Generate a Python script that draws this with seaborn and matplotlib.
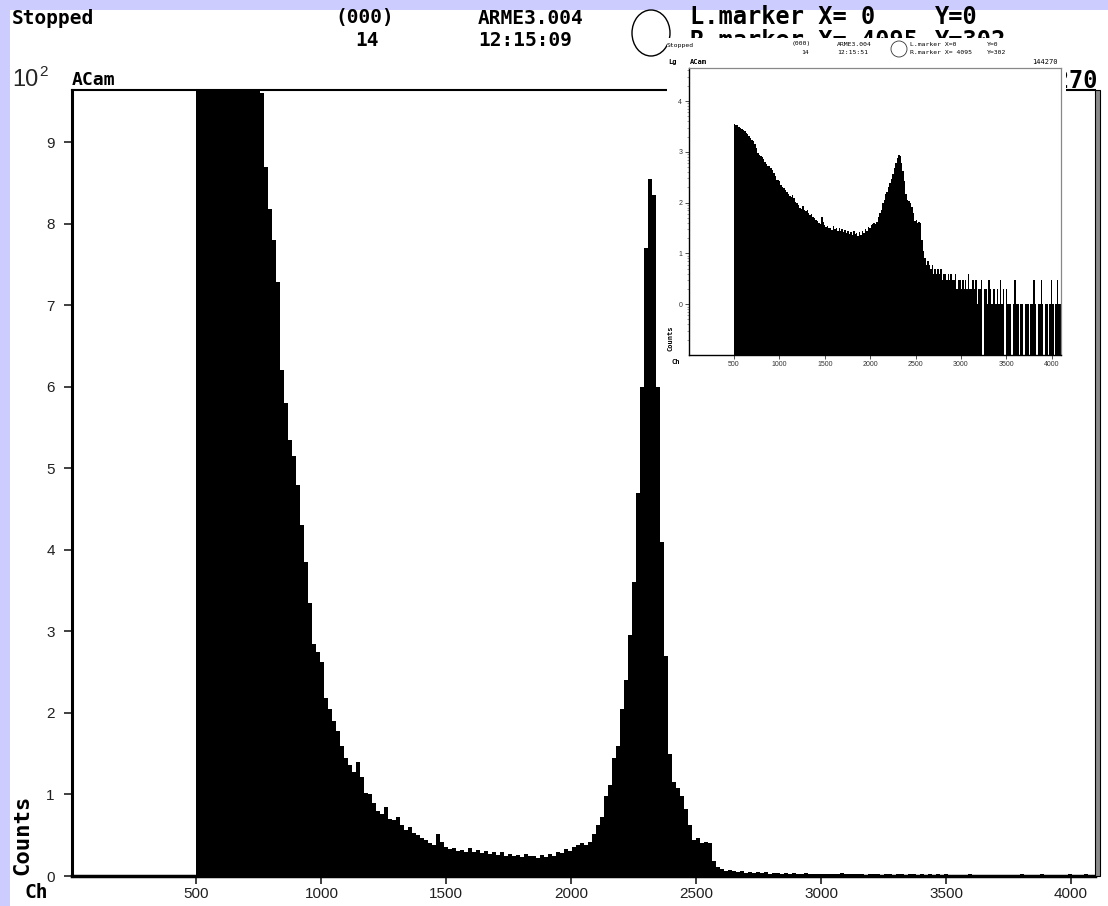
import numpy as np
import pandas as pd
import matplotlib
matplotlib.use("Agg")
import matplotlib.pyplot as plt
from matplotlib.patches import Rectangle, Ellipse
from matplotlib.ticker import FixedLocator, FuncFormatter, LogLocator, NullFormatter
import seaborn as sns

# spectrum: counts per channel, in groups of 16 channels
first_channel = 500
group_width = 16

# channels 500 .. 2627 (Compton edge + photo peak)
main_counts = [
    3560, 3420, 3300, 3120, 2980, 2810, 2650, 2530,   # 500
    2360, 2200, 2050, 1900, 1740, 1600, 1420, 1180,   # 628
    960, 870, 818, 780, 728, 620, 580, 535,           # 756
    515, 480, 430, 385, 335, 285, 275, 262,           # 884
    218, 205, 190, 178, 160, 145, 136, 128,           # 1012
    140, 122, 102, 100, 90, 80, 76, 85,               # 1140
    70, 69, 72, 62, 57, 60, 53, 50,                   # 1268
    46, 44, 40, 38, 52, 42, 36, 33,                   # 1396
    34, 31, 32, 29, 34, 30, 32, 28,                   # 1524
    31, 27, 30, 26, 29, 25, 27, 24,                   # 1652
    26, 23, 27, 24, 25, 22, 26, 23,                   # 1780
    27, 25, 30, 28, 33, 31, 36, 38,                   # 1908
    40, 38, 42, 52, 62, 72, 98, 112,                  # 2036
    145, 160, 205, 240, 295, 360, 470, 600,           # 2164
    770, 855, 835, 600, 410, 270, 150, 115,           # 2292
    108, 98, 82, 62, 44, 46, 40, 42,                  # 2420
    40, 18, 11, 8, 6,                                 # 2548
]

# channels 2628 .. 4095 (background tail, a few counts, some empty groups)
tail_counts = [
    7, 6, 5, 6, 4, 5, 4, 5,                           # 2628
    4, 5, 3, 4, 4, 3, 4, 3,                           # 2756
    4, 3, 3, 4, 2, 3, 3, 2,                           # 2884
    3, 2, 3, 2, 4, 2, 2, 3,                           # 3012
    2, 3, 1, 2, 2, 3, 0, 2,                           # 3140
    2, 1, 3, 2, 1, 2, 2, 1,                           # 3268
    2, 1, 3, 1, 2, 0, 2, 1,                           # 3396
    1, 1, 0, 1, 3, 1, 1, 0,                           # 3524
    1, 1, 0, 1, 1, 1, 0, 1,                           # 3652
    1, 3, 1, 0, 1, 1, 3, 1,                           # 3780
    0, 1, 1, 0, 1, 3, 1, 0,                           # 3908
    1, 3, 1, 1,                                       # 4036
]

x_ticks = [500, 1000, 1500, 2000, 2500, 3000, 3500, 4000]
y_ticks = [0, 100, 200, 300, 400, 500, 600, 700, 800, 900]
y_tick_labels = ["0", "1", "2", "3", "4", "5", "6", "7", "8", "9"]
inset_decades = [0, 1, 2, 3, 4]

n_groups = len(main_counts) + len(tail_counts)
edges = [first_channel + group_width * i for i in range(n_groups + 1)]
spectrum = pd.DataFrame({
    "channel": [e + group_width / 2 for e in edges[:-1]],
    "counts": [float(c) for c in main_counts + tail_counts],
})

sns.set_theme(style="ticks")
plt.rcParams["font.family"] = ["Liberation Sans", "DejaVu Sans"]
mono = "DejaVu Sans Mono"

W, H = 1108, 906
fig = plt.figure(figsize=(W / 100, H / 100), dpi=100, facecolor="#CCCCFF")


def fx(x):
    return x / W


def fy(y):
    return 1 - y / H


def label(x, y, s, size, ha="left", z=3, weight="bold", **kw):
    fig.text(fx(x), fy(y), s, fontsize=size, family=mono, fontweight=weight,
             ha=ha, va="center", zorder=z, color="black", **kw)


def box(x0, y0, x1, y1, z, **kw):
    fig.add_artist(Rectangle((fx(x0), fy(y1)), fx(x1) - fx(x0), fy(y0) - fy(y1),
                             transform=fig.transFigure, zorder=z, **kw))


def draw_spectrum(target):
    sns.histplot(data=spectrum, x="channel", weights="counts", bins=edges,
                 element="step", fill=True, color="black", alpha=1,
                 linewidth=0, ax=target)
    target.set_xlabel("")
    target.set_ylabel("")


# white screen area inside the lavender frame
box(10, 10, W, H, -1, facecolor="white", edgecolor="none")

# ---- main spectrum, linear ----
ax = fig.add_axes([fx(71.5), fy(876), (1095 - 71.5) / W, (876 - 90) / H])
draw_spectrum(ax)
ax.set_xlim(0, 4096)
ax.set_ylim(0, 964)
ax.set_xticks(x_ticks)
ax.set_yticks(y_ticks)
ax.set_yticklabels(y_tick_labels)
ax.tick_params(axis="both", direction="out", length=6, width=1.2,
               labelsize=11, colors="#202020")
ax.tick_params(axis="y", pad=6)
ax.tick_params(axis="x", pad=2)
ax.spines["left"].set_linewidth(2.2)
ax.spines["bottom"].set_linewidth(2.5)
ax.spines["top"].set_linewidth(1.5)
ax.spines["right"].set_visible(False)
for s in ax.spines.values():
    s.set_color("black")

# double right border
box(1095, 90, 1100, 876, 1, facecolor="#8a8a8a", edgecolor="black", linewidth=0.8)

# main header (the second row is partly hidden behind the inset window)
label(12, 18, "Stopped", 14, z=1)
label(335, 18, "(000)", 14, z=1)
label(355, 40, "14", 14, z=1)
label(478, 18, "ARME3.004", 14, z=1)
label(478, 40, "12:15:09", 14, z=1)
label(690, 17, "L.marker X= 0", 17, z=1)
label(690, 41, "R.marker X= 4095", 17, z=1)
label(935, 17, "Y=0", 17, z=1)
label(935, 41, "Y=302", 17, z=1)
fig.add_artist(Ellipse((fx(651), fy(33)), 38 / W, 46 / H, transform=fig.transFigure,
                       facecolor="none", edgecolor="black", linewidth=1.0, zorder=1))
fig.text(fx(12), fy(80), "10", fontsize=17, ha="left", va="center", zorder=3)
fig.text(fx(39), fy(72), "2", fontsize=11, ha="left", va="center", zorder=3)
label(72, 80, "ACam", 13)
label(1098, 81, "144270", 17, ha="right", z=1)
label(22, 835, "Counts", 16, rotation=90, ha="center")
label(36, 893, "Ch", 14, ha="center")

# ---- inset: same spectrum, log scale ----
box(667, 38, 1066, 370, 2, facecolor="white", edgecolor="none")
ins = fig.add_axes([fx(688.5), fy(355), (1060.5 - 688.5) / W, (355 - 68) / H], zorder=5)
draw_spectrum(ins)
ins.set_yscale("log")
ins.set_xlim(0, 4096)
ins.set_ylim(10 ** -1, 10 ** 4.65)
ins.set_xticks(x_ticks)
ins.yaxis.set_major_locator(FixedLocator([10.0 ** d for d in inset_decades]))
ins.yaxis.set_major_formatter(FuncFormatter(lambda v, _: f"{np.log10(v):.0f}"))
ins.yaxis.set_minor_locator(LogLocator(base=10, subs=np.arange(2, 10)))
ins.yaxis.set_minor_formatter(NullFormatter())
ins.tick_params(axis="both", which="major", direction="out", length=3, width=0.6,
                labelsize=5, pad=1.5, colors="#333333")
ins.tick_params(axis="y", which="minor", direction="out", length=1.5, width=0.4,
                colors="#555555")
for side in ["left", "bottom"]:
    ins.spines[side].set_linewidth(1.0)
    ins.spines[side].set_color("black")
for side in ["top", "right"]:
    ins.spines[side].set_linewidth(0.9)
    ins.spines[side].set_color("#888888")

small = 4.6
label(667, 45, "Stopped", small, z=6, weight="normal")
label(792, 44, "(000)", small, z=6, weight="normal")
label(801, 53, "14", small, z=6, weight="normal")
label(837, 44, "ARME3.004", small, z=6, weight="normal")
label(837, 53, "12:15:51", small, z=6, weight="normal")
label(910, 44, "L.marker X=0", small, z=6, weight="normal")
label(910, 53, "R.marker X= 4095", small, z=6, weight="normal")
label(987, 44, "Y=0", small, z=6, weight="normal")
label(987, 53, "Y=302", small, z=6, weight="normal")
fig.add_artist(Ellipse((fx(899), fy(49)), 16 / W, 16 / H, transform=fig.transFigure,
                       facecolor="none", edgecolor="#333333", linewidth=0.6, zorder=6))
label(668, 62, "Lg", 5, z=6)
label(690, 62, "ACam", 5, z=6)
label(1058, 62, "144270", 5, ha="right", z=6, weight="normal")
label(671, 338, "Counts", 5, rotation=90, ha="center", z=6)
label(676, 362, "Ch", 5, ha="center", z=6)

fig.savefig("out.png", dpi=100, facecolor=fig.get_facecolor())
